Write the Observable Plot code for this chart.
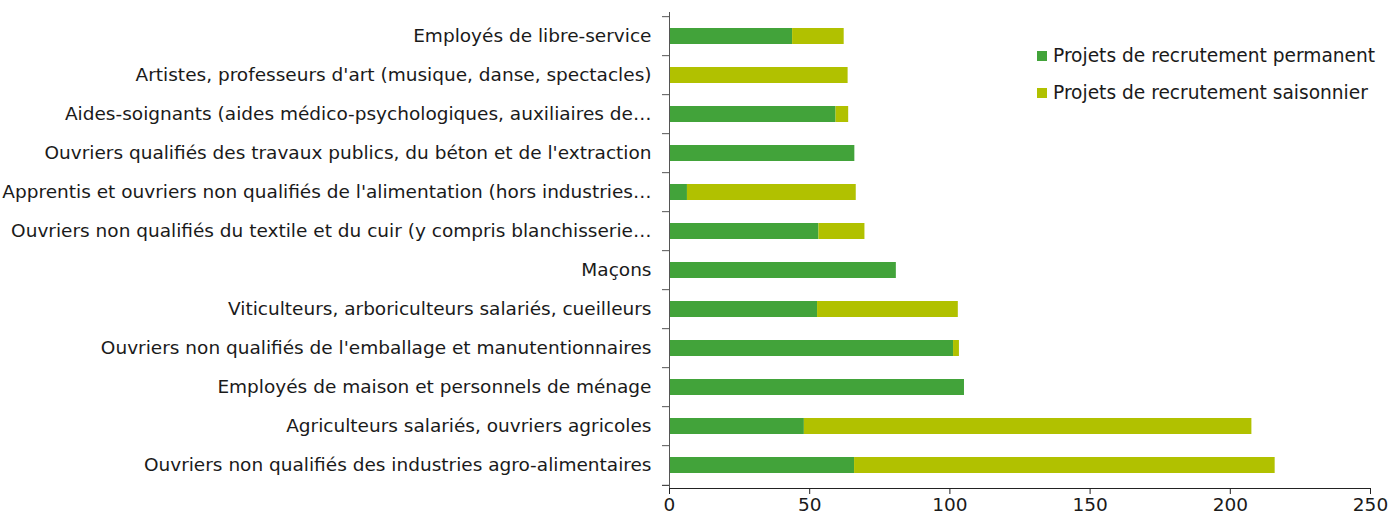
<!DOCTYPE html>
<html>
<head>
<meta charset="utf-8">
<script src="https://cdn.jsdelivr.net/npm/d3@7"></script>
<script src="https://cdn.jsdelivr.net/npm/@observablehq/plot@0.6"></script>
<style>
  body { margin: 0; background: #fff; font-family: Verdana, "DejaVu Sans", sans-serif; }
  #wrap { position: relative; width: 1389px; height: 519px; overflow: hidden; }
  .legend { position: absolute; left: 1037px; font-size: 18.6px; line-height: 20px; height: 20px; color: #1a1a1a; display: flex; align-items: center; white-space: nowrap; }
  .legend span.sw { display: inline-block; width: 10px; height: 10px; margin-right: 6px; }
</style>
</head>
<body>
<div id="wrap"></div>
<script>
const categories = [
  "Employés de libre-service",
  "Artistes, professeurs d'art (musique, danse, spectacles)",
  "Aides-soignants (aides médico-psychologiques, auxiliaires de…",
  "Ouvriers qualifiés des travaux publics, du béton et de l'extraction",
  "Apprentis et ouvriers non qualifiés de l'alimentation (hors industries…",
  "Ouvriers non qualifiés du textile et du cuir (y compris blanchisserie…",
  "Maçons",
  "Viticulteurs, arboriculteurs salariés, cueilleurs",
  "Ouvriers non qualifiés de l'emballage et manutentionnaires",
  "Employés de maison et personnels de ménage",
  "Agriculteurs salariés, ouvriers agricoles",
  "Ouvriers non qualifiés des industries agro-alimentaires"
];
const permanent  = [43.9, 0, 59.4, 66.1, 6.4, 53.3, 80.9, 52.8, 101.3, 105.2, 48.1, 66.0];
const saisonnier = [18.4, 63.7, 4.5, 0, 60.2, 16.4, 0, 50.2, 2.1, 0, 159.6, 150.0];
const seriesNames = ["Projets de recrutement permanent", "Projets de recrutement saisonnier"];
const seriesColors = ["#42a33a", "#b1c100"];
const xTicks = [0, 50, 100, 150, 200, 250];

const data = categories.flatMap((c, i) => [
  {cat: c, type: seriesNames[0], value: permanent[i]},
  {cat: c, type: seriesNames[1], value: saisonnier[i]}
]);

const width = 1389, height = 519;
const mt = 12, mb = 31;
const step = (height - mt - mb) / categories.length;
const axisColor = "#555";
const fs = 18.5;

const chart = Plot.plot({
  width, height,
  marginLeft: 669, marginRight: 19, marginTop: mt, marginBottom: mb,
  style: {fontFamily: "Verdana, 'DejaVu Sans', sans-serif", fontSize: fs + "px", color: "#1a1a1a", background: "#fff", overflow: "visible"},
  x: {domain: [0, 250], ticks: xTicks, label: null},
  y: {domain: categories, paddingInner: 0.6, paddingOuter: 0.3, label: null},
  color: {domain: seriesNames, range: seriesColors},
  marks: [
    Plot.barX(data, {x: "value", y: "cat", fill: "type"}),
    Plot.axisY({tickSize: 0, tickPadding: 18, fontSize: fs}),
    Plot.axisX({ticks: xTicks, tickSize: 6, tickPadding: 3, fontSize: fs, stroke: "#222"}),
    Plot.frame({anchor: "bottom", stroke: "#222"}),
    Plot.ruleX([0], {stroke: axisColor}),
    Plot.ruleY(categories, {y: d => d, x1: -2.5, x2: 0, dy: -step / 2, stroke: axisColor}),
    Plot.ruleY([categories[categories.length - 1]], {y: d => d, x1: -2.5, x2: 0, dy: step / 2, stroke: "#222"})
  ]
});
const wrap = document.getElementById("wrap");
wrap.appendChild(chart);

seriesNames.forEach((name, i) => {
  const div = document.createElement("div");
  div.className = "legend";
  div.style.top = (46 + i * 37) + "px";
  div.innerHTML = `<span class="sw" style="background:${seriesColors[i]}"></span>${name}`;
  wrap.appendChild(div);
});
</script>
</body>
</html>
